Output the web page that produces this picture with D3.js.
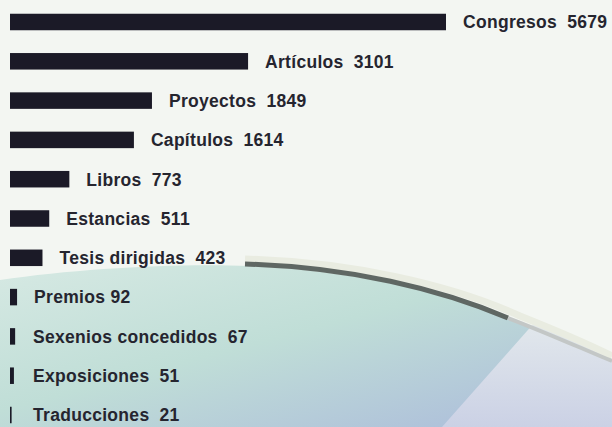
<!DOCTYPE html>
<html>
  <head>
    <meta charset="utf-8">
    <title>Producción científica</title>
    <script src="https://d3js.org/d3.v7.min.js"></script>
    <style>
      body { margin: 0; }
      svg { display: block; }
      .label {
        font-family: "Liberation Sans", Arial, sans-serif;
        font-weight: bold;
        font-size: 17.5px;
        letter-spacing: 0.3px;
        fill: #25252f;
      }
    </style>
  </head>
  <body>
    <div id="chart"></div>
    <script>
      // Data
      var categories = ["Congresos", "Artículos", "Proyectos", "Capítulos", "Libros", "Estancias",
        "Tesis dirigidas", "Premios", "Sexenios concedidos", "Exposiciones", "Traducciones"];
      var values = [5679, 3101, 1849, 1614, 773, 511, 423, 92, 67, 51, 21];

      var width = 612, height = 427;

      var svg = d3.select("#chart")
        .append("svg")
        .attr("width", width)
        .attr("height", height);

      // background: pale page with the curved teal shape at the bottom
      var defs = svg.append("defs");
      var grad = defs.append("linearGradient")
        .attr("id", "teal")
        .attr("x1", "0%").attr("y1", "0%")
        .attr("x2", "100%").attr("y2", "100%");
      grad.append("stop").attr("offset", "0%").attr("stop-color", "#d6e9e3");
      grad.append("stop").attr("offset", "45%").attr("stop-color", "#c0ded7");
      grad.append("stop").attr("offset", "100%").attr("stop-color", "#aab9db");

      var grad2 = defs.append("linearGradient")
        .attr("id", "panel")
        .attr("x1", "0%").attr("y1", "0%")
        .attr("x2", "0%").attr("y2", "100%");
      grad2.append("stop").attr("offset", "0%").attr("stop-color", "#e2e8ec");
      grad2.append("stop").attr("offset", "100%").attr("stop-color", "#cbd1e5");

      svg.append("rect")
        .attr("width", width).attr("height", height)
        .attr("fill", "#f3f6f2");

      svg.append("path")
        .attr("d", "M0,280 C80,268 180,263 250,266 C350,270 450,292 520,324 C560,340 590,352 612,364 L612,427 L0,427 Z")
        .attr("fill", "url(#teal)");

      svg.append("path")
        .attr("d", "M535,322 C560,334 590,348 612,360 L612,427 L442,427 Z")
        .attr("fill", "url(#panel)");

      // cream highlight above the edge
      svg.append("path")
        .attr("d", "M245,259 C350,262 450,284 520,316 C560,332 590,345 612,356")
        .attr("fill", "none")
        .attr("stroke", "#e9ece1")
        .attr("stroke-width", 7);

      svg.append("path")
        .attr("d", "M245,264 C350,267 440,289 508,318")
        .attr("fill", "none")
        .attr("stroke", "#5f6763")
        .attr("stroke-width", 5);

      svg.append("path")
        .attr("d", "M508,318 C550,334 585,350 612,361")
        .attr("fill", "none")
        .attr("stroke", "#c3c7c6")
        .attr("stroke-width", 4);

      // scales
      var x = d3.scaleLinear()
        .domain([0, d3.max(values)])
        .range([10, 446]);

      var y = d3.scaleBand()
        .domain(categories)
        .range([2.35, 434.65])
        .paddingInner(0.58)
        .paddingOuter(0.29);

      var rows = categories.map(function(c, i) { return { name: c, value: values[i] }; });

      // bars
      svg.selectAll("rect.bar")
        .data(rows)
        .enter()
        .append("rect")
        .attr("class", "bar")
        .attr("x", x(0))
        .attr("y", function(d) { return y(d.name); })
        .attr("width", function(d) { return Math.max(x(d.value) - x(0), 1.5); })
        .attr("height", y.bandwidth())
        .attr("fill", "#1b1a27");

      // labels
      var labels = svg.selectAll("text.label")
        .data(rows)
        .enter()
        .append("text")
        .attr("class", "label")
        .attr("x", function(d) { return Math.max(x(d.value) + 17, 33); })
        .attr("y", function(d) { return y(d.name) + y.bandwidth() / 2; })
        .attr("dy", "0.36em");

      labels.append("tspan").text(function(d) { return d.name; });
      labels.append("tspan")
        .attr("dx", function(d) { return d.name == "Premios" ? 0 : 5; })
        .text(function(d) { return " " + d.value; });
    </script>
  </body>
</html>
